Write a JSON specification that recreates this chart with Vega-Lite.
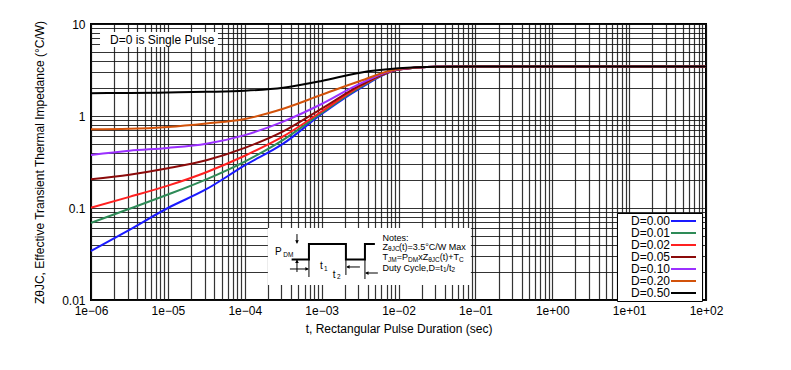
{
  "$schema": "https://vega.github.io/schema/vega-lite/v6.json",
  "width": 615,
  "height": 276,
  "autosize": {"type": "none"},
  "padding": {"left": 91, "top": 24, "right": 85, "bottom": 70},
  "config": {
    "font": "Liberation Sans",
    "view": {"stroke": "black", "strokeWidth": 2},
    "axis": {"labelFont": "Liberation Sans", "titleFont": "Liberation Sans", "labelFontSize": 12, "titleFontSize": 12, "titleFontWeight": "normal", "labelColor": "black", "titleColor": "black", "gridColor": "#111", "gridWidth": 1.2, "gridOpacity": 0.85, "ticks": false, "domain": false}
  },
  "layer": [
    {
      "data": {"values": [
        {"D": "D=0.00", "t": 1e-6, "z": 0.034}, {"D": "D=0.00", "t": 3.162e-6, "z": 0.058}, {"D": "D=0.00", "t": 1e-5, "z": 0.1}, {"D": "D=0.00", "t": 3.162e-5, "z": 0.16}, {"D": "D=0.00", "t": 1e-4, "z": 0.29}, {"D": "D=0.00", "t": 3.162e-4, "z": 0.5}, {"D": "D=0.00", "t": 1e-3, "z": 1.05}, {"D": "D=0.00", "t": 3.162e-3, "z": 2.0}, {"D": "D=0.00", "t": 1e-2, "z": 3.2}, {"D": "D=0.00", "t": 3.162e-2, "z": 3.43}, {"D": "D=0.00", "t": 0.1, "z": 3.45}, {"D": "D=0.00", "t": 1, "z": 3.45}, {"D": "D=0.00", "t": 10, "z": 3.45}, {"D": "D=0.00", "t": 100, "z": 3.45},
        {"D": "D=0.01", "t": 1e-6, "z": 0.069}, {"D": "D=0.01", "t": 3.162e-6, "z": 0.098}, {"D": "D=0.01", "t": 1e-5, "z": 0.14}, {"D": "D=0.01", "t": 3.162e-5, "z": 0.205}, {"D": "D=0.01", "t": 1e-4, "z": 0.32}, {"D": "D=0.01", "t": 3.162e-4, "z": 0.55}, {"D": "D=0.01", "t": 1e-3, "z": 1.08}, {"D": "D=0.01", "t": 3.162e-3, "z": 2.05}, {"D": "D=0.01", "t": 1e-2, "z": 3.2}, {"D": "D=0.01", "t": 3.162e-2, "z": 3.43}, {"D": "D=0.01", "t": 0.1, "z": 3.45}, {"D": "D=0.01", "t": 1, "z": 3.45}, {"D": "D=0.01", "t": 10, "z": 3.45}, {"D": "D=0.01", "t": 100, "z": 3.45},
        {"D": "D=0.02", "t": 1e-6, "z": 0.101}, {"D": "D=0.02", "t": 3.162e-6, "z": 0.132}, {"D": "D=0.02", "t": 1e-5, "z": 0.175}, {"D": "D=0.02", "t": 3.162e-5, "z": 0.245}, {"D": "D=0.02", "t": 1e-4, "z": 0.37}, {"D": "D=0.02", "t": 3.162e-4, "z": 0.6}, {"D": "D=0.02", "t": 1e-3, "z": 1.12}, {"D": "D=0.02", "t": 3.162e-3, "z": 2.1}, {"D": "D=0.02", "t": 1e-2, "z": 3.2}, {"D": "D=0.02", "t": 3.162e-2, "z": 3.43}, {"D": "D=0.02", "t": 0.1, "z": 3.45}, {"D": "D=0.02", "t": 1, "z": 3.45}, {"D": "D=0.02", "t": 10, "z": 3.45}, {"D": "D=0.02", "t": 100, "z": 3.45},
        {"D": "D=0.05", "t": 1e-6, "z": 0.205}, {"D": "D=0.05", "t": 3.162e-6, "z": 0.23}, {"D": "D=0.05", "t": 1e-5, "z": 0.27}, {"D": "D=0.05", "t": 3.162e-5, "z": 0.33}, {"D": "D=0.05", "t": 1e-4, "z": 0.45}, {"D": "D=0.05", "t": 3.162e-4, "z": 0.68}, {"D": "D=0.05", "t": 1e-3, "z": 1.2}, {"D": "D=0.05", "t": 3.162e-3, "z": 2.15}, {"D": "D=0.05", "t": 1e-2, "z": 3.2}, {"D": "D=0.05", "t": 3.162e-2, "z": 3.43}, {"D": "D=0.05", "t": 0.1, "z": 3.45}, {"D": "D=0.05", "t": 1, "z": 3.45}, {"D": "D=0.05", "t": 10, "z": 3.45}, {"D": "D=0.05", "t": 100, "z": 3.45},
        {"D": "D=0.10", "t": 1e-6, "z": 0.377}, {"D": "D=0.10", "t": 3.162e-6, "z": 0.42}, {"D": "D=0.10", "t": 1e-5, "z": 0.45}, {"D": "D=0.10", "t": 3.162e-5, "z": 0.5}, {"D": "D=0.10", "t": 1e-4, "z": 0.62}, {"D": "D=0.10", "t": 3.162e-4, "z": 0.87}, {"D": "D=0.10", "t": 1e-3, "z": 1.35}, {"D": "D=0.10", "t": 3.162e-3, "z": 2.25}, {"D": "D=0.10", "t": 1e-2, "z": 3.22}, {"D": "D=0.10", "t": 3.162e-2, "z": 3.43}, {"D": "D=0.10", "t": 0.1, "z": 3.45}, {"D": "D=0.10", "t": 1, "z": 3.45}, {"D": "D=0.10", "t": 10, "z": 3.45}, {"D": "D=0.10", "t": 100, "z": 3.45},
        {"D": "D=0.20", "t": 1e-6, "z": 0.716}, {"D": "D=0.20", "t": 3.162e-6, "z": 0.725}, {"D": "D=0.20", "t": 1e-5, "z": 0.76}, {"D": "D=0.20", "t": 3.162e-5, "z": 0.83}, {"D": "D=0.20", "t": 1e-4, "z": 0.93}, {"D": "D=0.20", "t": 3.162e-4, "z": 1.2}, {"D": "D=0.20", "t": 1e-3, "z": 1.7}, {"D": "D=0.20", "t": 3.162e-3, "z": 2.4}, {"D": "D=0.20", "t": 1e-2, "z": 3.24}, {"D": "D=0.20", "t": 3.162e-2, "z": 3.43}, {"D": "D=0.20", "t": 0.1, "z": 3.45}, {"D": "D=0.20", "t": 1, "z": 3.45}, {"D": "D=0.20", "t": 10, "z": 3.45}, {"D": "D=0.20", "t": 100, "z": 3.45},
        {"D": "D=0.50", "t": 1e-6, "z": 1.77}, {"D": "D=0.50", "t": 3.162e-6, "z": 1.78}, {"D": "D=0.50", "t": 1e-5, "z": 1.8}, {"D": "D=0.50", "t": 3.162e-5, "z": 1.83}, {"D": "D=0.50", "t": 1e-4, "z": 1.88}, {"D": "D=0.50", "t": 3.162e-4, "z": 2.03}, {"D": "D=0.50", "t": 1e-3, "z": 2.4}, {"D": "D=0.50", "t": 3.162e-3, "z": 2.96}, {"D": "D=0.50", "t": 1e-2, "z": 3.3}, {"D": "D=0.50", "t": 3.162e-2, "z": 3.43}, {"D": "D=0.50", "t": 0.1, "z": 3.45}, {"D": "D=0.50", "t": 1, "z": 3.45}, {"D": "D=0.50", "t": 10, "z": 3.45}, {"D": "D=0.50", "t": 100, "z": 3.45}
      ]},
      "mark": {"type": "line", "strokeWidth": 2, "interpolate": "monotone"},
      "encoding": {
        "x": {"field": "t", "type": "quantitative",
          "scale": {"type": "log", "domain": [1e-6, 100], "nice": false},
          "axis": {"title": "t, Rectangular Pulse Duration (sec)", "grid": true, "labelOverlap": false, "labelFlush": false, "labelPadding": 5, "titlePadding": 7,
            "values": [1e-6,2e-6,3e-6,4e-6,5e-6,6e-6,7e-6,8e-6,9e-6,1e-5,2e-5,3e-5,4e-5,5e-5,6e-5,7e-5,8e-5,9e-5,1e-4,2e-4,3e-4,4e-4,5e-4,6e-4,7e-4,8e-4,9e-4,1e-3,2e-3,3e-3,4e-3,5e-3,6e-3,7e-3,8e-3,9e-3,1e-2,2e-2,3e-2,4e-2,5e-2,6e-2,7e-2,8e-2,9e-2,0.1,0.2,0.3,0.4,0.5,0.6,0.7,0.8,0.9,1,2,3,4,5,6,7,8,9,10,20,30,40,50,60,70,80,90,100],
            "labelExpr": "abs(log(datum.value)/LN10 - round(log(datum.value)/LN10)) < 0.01 ? '1e' + (datum.value < 1 ? '−' : '+') + pad(toString(abs(round(log(datum.value)/LN10))), 2, '0', 'left') : ''"}},
        "y": {"field": "z", "type": "quantitative",
          "scale": {"type": "log", "domain": [0.01, 10], "nice": false},
          "axis": {"title": "ZθJC, Effective Transient Thermal Impedance (°C/W)", "grid": true, "labelOverlap": false, "labelFlush": false, "labelPadding": 6, "titlePadding": 15,
            "values": [0.01,0.02,0.03,0.04,0.05,0.06,0.07,0.08,0.09,0.1,0.2,0.3,0.4,0.5,0.6,0.7,0.8,0.9,1,2,3,4,5,6,7,8,9,10],
            "labelExpr": "abs(log(datum.value)/LN10 - round(log(datum.value)/LN10)) < 0.01 ? format(datum.value, '~g') : ''"}},
        "color": {"field": "D", "type": "nominal",
          "scale": {"domain": ["D=0.00","D=0.01","D=0.02","D=0.05","D=0.10","D=0.20","D=0.50"], "range": ["#1a1aff","#2e8b57","#ff2020","#8b0a0a","#9b30ff","#d2520a","#000000"]},
          "legend": {"title": null, "orient": "none", "legendX": 526, "legendY": 189, "symbolType": "M23,0H35.5", "symbolSize": 16, "symbolStrokeWidth": 2, "symbolFillColor": "transparent", "labelFontSize": 12, "labelFont": "Liberation Sans", "labelColor": "black", "labelOffset": 0, "rowPadding": 0, "padding": 2, "fillColor": "white", "strokeColor": "black"}}
      }
    },
    {
      "data": {"values": [
        {"x": 1.31e-6, "x2": 4.48e-5, "y": 5.62, "y2": 8.19},
        {"x": 2.0e-4, "x2": 0.0873, "y": 0.01456, "y2": 0.0607}
      ]},
      "mark": {"type": "rect", "fill": "white"},
      "encoding": {"x": {"field": "x", "type": "quantitative"}, "x2": {"field": "x2"}, "y": {"field": "y", "type": "quantitative"}, "y2": {"field": "y2"}}
    },
    {
      "data": {"values": [{"x": 1.77e-6, "y": 6.78, "text": "D=0 is Single Pulse"}]},
      "mark": {"type": "text", "align": "left", "baseline": "middle", "fontSize": 12, "font": "Liberation Sans", "color": "black"},
      "encoding": {"x": {"field": "x", "type": "quantitative"}, "y": {"field": "y", "type": "quantitative"}, "text": {"field": "text"}}
    },
    {
      "data": {"values": [
        {"i": 1, "x": 4.07e-4, "y": 0.02754}, {"i": 2, "x": 6.84e-4, "y": 0.02754}, {"i": 3, "x": 6.84e-4, "y": 0.04064}, {"i": 4, "x": 2.07e-3, "y": 0.04064},
        {"i": 5, "x": 2.07e-3, "y": 0.02754}, {"i": 6, "x": 3.66e-3, "y": 0.02754}, {"i": 7, "x": 3.66e-3, "y": 0.04064}, {"i": 8, "x": 4.93e-3, "y": 0.04064}
      ]},
      "mark": {"type": "line", "color": "black", "strokeWidth": 2, "interpolate": "linear"},
      "encoding": {"x": {"field": "x", "type": "quantitative"}, "y": {"field": "y", "type": "quantitative"}, "order": {"field": "i"}}
    },
    {
      "data": {"values": [
        {"x": 6.84e-4, "x2": 6.84e-4, "y": 0.02754, "y2": 0.01778},
        {"x": 2.07e-3, "x2": 2.07e-3, "y": 0.02754, "y2": 0.0187},
        {"x": 3.66e-3, "x2": 3.66e-3, "y": 0.02754, "y2": 0.0169},
        {"x": 4.78e-4, "x2": 4.78e-4, "y": 0.0521, "y2": 0.0413},
        {"x": 4.78e-4, "x2": 4.78e-4, "y": 0.02014, "y2": 0.0272},
        {"x": 3.87e-4, "x2": 6.7e-4, "y": 0.02173, "y2": 0.02173},
        {"x": 3.15e-3, "x2": 2.14e-3, "y": 0.02285, "y2": 0.02285},
        {"x": 5.39e-3, "x2": 3.75e-3, "y": 0.01965, "y2": 0.01965}
      ]},
      "mark": {"type": "rule", "color": "black", "strokeWidth": 1},
      "encoding": {"x": {"field": "x", "type": "quantitative"}, "x2": {"field": "x2"}, "y": {"field": "y", "type": "quantitative"}, "y2": {"field": "y2"}}
    },
    {
      "data": {"values": [
        {"x": 4.78e-4, "y": 0.0428, "dir": "triangle-down"},
        {"x": 4.78e-4, "y": 0.0263, "dir": "triangle-up"},
        {"x": 6.45e-4, "y": 0.02173, "dir": "triangle-right"},
        {"x": 2.2e-3, "y": 0.02285, "dir": "triangle-left"},
        {"x": 3.88e-3, "y": 0.01965, "dir": "triangle-left"}
      ]},
      "mark": {"type": "point", "filled": true, "color": "black", "size": 14, "opacity": 1},
      "encoding": {"x": {"field": "x", "type": "quantitative"}, "y": {"field": "y", "type": "quantitative"}, "shape": {"field": "dir", "type": "nominal", "scale": null, "legend": null}}
    },
    {
      "data": {"values": [
        {"x": 6.21e-3, "y": 0.04753, "text": "Notes:"},
        {"x": 6.21e-3, "y": 0.03795, "text": "Z"},
        {"x": 1.012e-2, "y": 0.03795, "text": "(t)=3.5°C/W Max"},
        {"x": 6.21e-3, "y": 0.02958, "text": "T"},
        {"x": 9.5e-3, "y": 0.02958, "text": "=P"},
        {"x": 1.804e-2, "y": 0.02958, "text": "xZ"},
        {"x": 3.444e-2, "y": 0.02958, "text": "(t)+T"},
        {"x": 6.21e-3, "y": 0.02244, "text": "Duty Cycle,D=t"},
        {"x": 4.21e-2, "y": 0.02244, "text": "/t"}
      ]},
      "mark": {"type": "text", "align": "left", "baseline": "middle", "fontSize": 9, "font": "Liberation Sans", "color": "black"},
      "encoding": {"x": {"field": "x", "type": "quantitative"}, "y": {"field": "y", "type": "quantitative"}, "text": {"field": "text"}}
    },
    {
      "data": {"values": [
        {"x": 2.47e-4, "y": 0.03326, "text": "P"},
        {"x": 9.51e-4, "y": 0.02344, "text": "t"},
        {"x": 1.40e-3, "y": 0.01892, "text": "t"}
      ]},
      "mark": {"type": "text", "align": "left", "baseline": "middle", "fontSize": 10, "font": "Liberation Sans", "color": "black"},
      "encoding": {"x": {"field": "x", "type": "quantitative"}, "y": {"field": "y", "type": "quantitative"}, "text": {"field": "text"}}
    },
    {
      "data": {"values": [
        {"x": 7.32e-3, "y": 0.0354, "text": "θJC"},
        {"x": 7.32e-3, "y": 0.02754, "text": "JM"},
        {"x": 1.333e-2, "y": 0.02754, "text": "DM"},
        {"x": 2.433e-2, "y": 0.02754, "text": "θJC"},
        {"x": 6.14e-2, "y": 0.02754, "text": "C"},
        {"x": 3.779e-2, "y": 0.02093, "text": "1"},
        {"x": 4.89e-2, "y": 0.02093, "text": "2"},
        {"x": 3.18e-4, "y": 0.03046, "text": "DM"},
        {"x": 1.07e-3, "y": 0.02173, "text": "1"},
        {"x": 1.58e-3, "y": 0.01757, "text": "2"}
      ]},
      "mark": {"type": "text", "align": "left", "baseline": "middle", "fontSize": 6.5, "font": "Liberation Sans", "color": "black"},
      "encoding": {"x": {"field": "x", "type": "quantitative"}, "y": {"field": "y", "type": "quantitative"}, "text": {"field": "text"}}
    }
  ]
}
